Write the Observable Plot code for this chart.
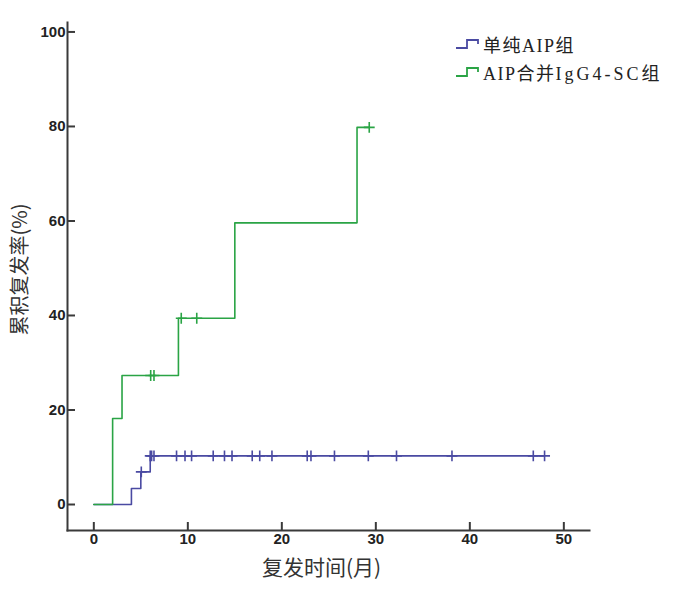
<!DOCTYPE html>
<html>
<head>
<meta charset="utf-8">
<script src="https://cdn.jsdelivr.net/npm/d3@7"></script>
<script src="https://cdn.jsdelivr.net/npm/@observablehq/plot@0.6"></script>
<style>
  html, body { margin: 0; padding: 0; background: #fff; }
  #wrap { position: relative; width: 700px; height: 590px; }
  #legend { position: absolute; left: 455px; top: 30px; font-family: "Liberation Serif", "Noto Sans CJK SC", serif; font-size: 18px; letter-spacing: 1.5px; color: #222; }
  #legend .row { display: flex; align-items: center; height: 28px; white-space: nowrap; }
  #legend svg { margin-right: 2px; }
  .sp { letter-spacing: 3px; }
</style>
</head>
<body>
<div id="wrap">
  <div id="chart"></div>
  <div id="legend"></div>
</div>
<script>
// ---- data ----
const seriesNames = ["单纯AIP组", "AIP合并IgG4-SC组"];
const seriesColors = ["#4a4aa2", "#2aa445"];

const blueTimes  = [0, 4, 5, 6, 47.95];
const blueValues = [0, 3.4, 6.9, 10.3, 10.3];
const blueCensor = [5.05, 6.0, 6.15, 6.4, 8.8, 9.7, 10.4, 12.7, 13.9, 14.7, 16.85, 17.65, 18.95, 22.7, 23.1, 25.6, 29.2, 32.2, 38.1, 46.75, 47.95];

const greenTimes  = [0, 2, 3, 9, 15, 28, 29.3];
const greenValues = [0, 18.2, 27.3, 39.4, 59.6, 79.8, 79.8];
const greenCensor = [6.05, 6.4, 9.3, 10.95, 29.3];

const xTicks = [0, 10, 20, 30, 40, 50];
const yTicks = [0, 20, 40, 60, 80, 100];
const xTitle = "复发时间(月)";
const yTitle = "累积复发率(%)";

// ---- build tables ----
function stepValue(times, values, t) {
  let v = values[0];
  for (let i = 0; i < times.length; i++) if (times[i] <= t) v = values[i];
  return v;
}
const curves = [
  ...blueTimes.map((t, i) => ({s: seriesNames[0], t, v: blueValues[i]})),
  ...greenTimes.map((t, i) => ({s: seriesNames[1], t, v: greenValues[i]}))
];
const censors = [
  ...blueCensor.map(t => ({s: seriesNames[0], t, v: stepValue(blueTimes, blueValues, t)})),
  ...greenCensor.map(t => ({s: seriesNames[1], t, v: stepValue(greenTimes, greenValues, t)}))
];

const axisColor = "#3a3a3a";
const W = 700, H = 590, mL = 67, mR = 111, mT = 22, mB = 60;

const chart = Plot.plot({
  width: W, height: H,
  marginLeft: mL, marginRight: mR, marginTop: mT, marginBottom: mB,
  style: {fontFamily: "'Liberation Sans', Arial, sans-serif", fontSize: "15px", background: "#fff", color: "#222"},
  x: {domain: [-2.8, 52.73], axis: null},
  y: {domain: [-5.5, 102], axis: null},
  color: {domain: seriesNames, range: seriesColors},
  marks: [
    Plot.frame({anchor: "left", stroke: axisColor, strokeWidth: 2}),
    Plot.frame({anchor: "bottom", stroke: axisColor, strokeWidth: 2}),
    Plot.tickX(xTicks, {x: d => d, insetTop: (H - mT - mB) - 8, stroke: axisColor, strokeWidth: 2}),
    Plot.tickY(yTicks, {y: d => d, insetRight: (W - mL - mR) - 8, stroke: axisColor, strokeWidth: 2}),
    Plot.axisX({ticks: xTicks, tickSize: 0, tickPadding: 3, label: null, fontSize: 15, fontWeight: "bold", fill: "#222"}),
    Plot.axisY({ticks: yTicks, tickSize: 0, tickPadding: 2, label: null, fontSize: 15, fontWeight: "bold", fill: "#222"}),
    Plot.line(curves, {x: "t", y: "v", z: "s", stroke: "s", curve: "step-after", strokeWidth: 1.6}),
    Plot.dot(censors, {x: "t", y: "v", stroke: "s", symbol: "plus", r: 3.6, strokeWidth: 1.6}),
    Plot.text([xTitle], {frameAnchor: "bottom", dx: -7, dy: 38, fontSize: 21, fill: "#333", fontFamily: "'Noto Sans CJK SC', sans-serif", lineAnchor: "middle", textAnchor: "middle"}),
    Plot.text([yTitle], {frameAnchor: "left", dx: -47, dy: -7, rotate: -90, fontSize: 20, fill: "#333", fontFamily: "'Noto Sans CJK SC', sans-serif", lineAnchor: "middle", textAnchor: "middle"})
  ]
});
document.getElementById("chart").appendChild(chart);

// ---- legend ----
const legend = document.getElementById("legend");
seriesNames.forEach((name, i) => {
  const row = document.createElement("div");
  row.className = "row";
  const c = seriesColors[i];
  let label = name.replace("IgG4-SC", '<span class="sp">IgG4-SC</span>');
  row.innerHTML = `<svg width="26" height="12"><path d="M1,10H12V2H23V6" fill="none" stroke="${c}" stroke-width="1.8"/></svg><span>${label}</span>`;
  legend.appendChild(row);
});
</script>
</body>
</html>
